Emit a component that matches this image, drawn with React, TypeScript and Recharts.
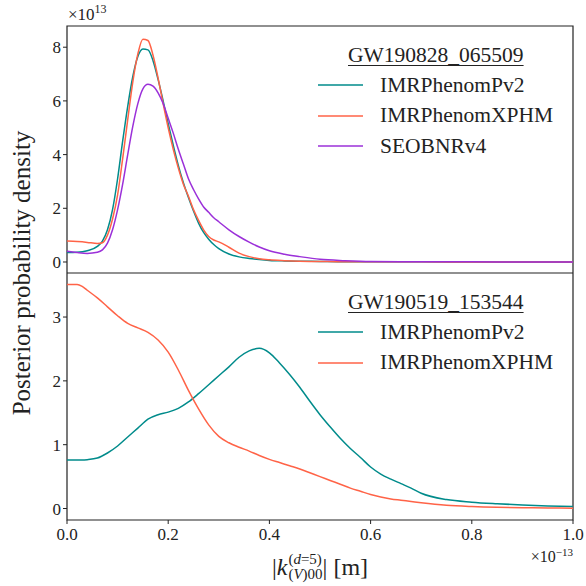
import React from "react";
import { LineChart, Line, XAxis, YAxis, ReferenceArea } from "recharts";

// x in units of 1e-13 m, densities in units of 1e13 (top) and plain (bottom)
const xTop = [0, 0.02, 0.04, 0.06, 0.07, 0.08, 0.09, 0.1, 0.11, 0.12, 0.13, 0.14, 0.15, 0.16, 0.17, 0.18, 0.19, 0.2, 0.21, 0.22, 0.23, 0.24, 0.25, 0.26, 0.27, 0.28, 0.29, 0.3, 0.32, 0.34, 0.36, 0.38, 0.4, 0.43, 0.46, 0.5, 0.55, 0.6, 0.7, 0.8, 0.9, 1.0];
const pv2Top = [0.35, 0.36, 0.42, 0.58, 0.78, 1.2, 1.95, 3.1, 4.5, 5.8, 6.9, 7.65, 7.93, 7.9, 7.5, 6.8, 6.0, 5.15, 4.35, 3.6, 2.95, 2.4, 1.9, 1.45, 1.1, 0.85, 0.65, 0.5, 0.3, 0.19, 0.13, 0.09, 0.06, 0.04, 0.03, 0.02, 0.01, 0.01, 0.005, 0, 0, 0];
const xphmTop = [0.78, 0.76, 0.73, 0.69, 0.72, 1.0, 1.6, 2.5, 3.85, 5.3, 6.7, 7.75, 8.3, 8.25, 7.7, 6.85, 5.9, 5.0, 4.2, 3.5, 2.9, 2.45, 1.95, 1.55, 1.2, 0.95, 0.82, 0.75, 0.55, 0.33, 0.2, 0.12, 0.08, 0.05, 0.03, 0.02, 0.01, 0.01, 0.005, 0, 0, 0];
const seobTop = [0.4, 0.35, 0.32, 0.36, 0.45, 0.7, 1.2, 1.95, 2.9, 4.0, 5.05, 5.9, 6.45, 6.62, 6.55, 6.3, 5.9, 5.35, 4.8, 4.2, 3.65, 3.1, 2.7, 2.35, 2.05, 1.85, 1.65, 1.5, 1.2, 0.95, 0.74, 0.56, 0.42, 0.29, 0.2, 0.1, 0.05, 0.02, 0.01, 0.005, 0, 0];

const xBottom = [0, 0.02, 0.03, 0.04, 0.06, 0.08, 0.1, 0.12, 0.14, 0.16, 0.18, 0.2, 0.22, 0.24, 0.26, 0.28, 0.3, 0.32, 0.34, 0.36, 0.38, 0.4, 0.42, 0.44, 0.46, 0.48, 0.5, 0.52, 0.54, 0.56, 0.58, 0.6, 0.62, 0.64, 0.66, 0.68, 0.7, 0.75, 0.8, 0.85, 0.9, 0.95, 1.0];
const pv2Bottom = [0.76, 0.76, 0.76, 0.765, 0.79, 0.87, 0.98, 1.12, 1.26, 1.4, 1.47, 1.51, 1.57, 1.67, 1.8, 1.94, 2.08, 2.22, 2.37, 2.47, 2.51, 2.44, 2.28, 2.1, 1.9, 1.68, 1.47, 1.28, 1.1, 0.94, 0.8, 0.65, 0.54, 0.46, 0.39, 0.32, 0.24, 0.14, 0.1, 0.075, 0.055, 0.04, 0.03];
const xphmBottom = [3.51, 3.51, 3.48, 3.42, 3.3, 3.16, 3.02, 2.9, 2.83, 2.76, 2.64, 2.45, 2.17, 1.85, 1.56, 1.31, 1.13, 1.03, 0.96, 0.9, 0.83, 0.77, 0.72, 0.67, 0.62, 0.56, 0.5, 0.44, 0.38, 0.32, 0.27, 0.22, 0.18, 0.15, 0.13, 0.11, 0.09, 0.05, 0.03, 0.018, 0.012, 0.008, 0.005];

const xTicks = [0, 0.2, 0.4, 0.6, 0.8, 1.0];
const topYTicks = [0, 2, 4, 6, 8];
const bottomYTicks = [0, 1, 2, 3];
const topYDomain = [-0.41, 8.79];
const bottomYDomain = [-0.18, 3.69];

const topData = xTop.map((x, i) => ({ x, pv2: pv2Top[i], xphm: xphmTop[i], seob: seobTop[i] }));
const bottomData = xBottom.map((x, i) => ({ x, pv2: pv2Bottom[i], xphm: xphmBottom[i] }));

const TEAL = "#008b8b";
const TOMATO = "#ff6347";
const VIOLET = "#9b30d9";
const FONT = "'Liberation Serif', 'DejaVu Serif', serif";
const INK = "#222";

const tickStyle = { fontSize: 17, fill: INK, fontFamily: FONT };

function Legend({ top, title, items }: { top: number; title: string; items: { name: string; color: string }[] }) {
  return (
    <div style={{ position: "absolute", left: 318, top, fontFamily: FONT, color: INK, fontSize: 21.5 }}>
      <div style={{ marginLeft: 30, textDecoration: "underline", textUnderlineOffset: 3, textDecorationThickness: 1, height: 30, lineHeight: "30px" }}>
        {title}
      </div>
      {items.map((it) => (
        <div key={it.name} style={{ display: "flex", alignItems: "center", height: 30.5 }}>
          <svg width={45} height={4} style={{ marginRight: 17 }}>
            <line x1={0} y1={2} x2={45} y2={2} stroke={it.color} strokeWidth={1.6} />
          </svg>
          <span>{it.name}</span>
        </div>
      ))}
    </div>
  );
}

export default function App() {
  return (
    <div style={{ position: "absolute", left: 0, top: 0, width: 586, height: 586, background: "#fff", overflow: "hidden" }}>
      <div style={{ position: "absolute", left: 0, top: 0 }}>
        <LineChart width={586} height={273} data={topData} margin={{ top: 26, right: 13, left: 7, bottom: 0 }} style={{ fontFamily: FONT }}>
          <XAxis type="number" dataKey="x" domain={[0, 1]} hide height={0} />
          <YAxis
            type="number"
            domain={topYDomain}
            ticks={topYTicks}
            allowDataOverflow
            width={60}
            axisLine={false}
            tickSize={4}
            tickLine={{ stroke: INK }}
            tick={tickStyle}
          />
          <Line type="monotone" dataKey="pv2" stroke={TEAL} strokeWidth={1.5} dot={false} isAnimationActive={false} />
          <Line type="monotone" dataKey="xphm" stroke={TOMATO} strokeWidth={1.5} dot={false} isAnimationActive={false} />
          <Line type="monotone" dataKey="seob" stroke={VIOLET} strokeWidth={1.5} dot={false} isAnimationActive={false} />
          <ReferenceArea x1={0} x2={1} y1={topYDomain[0]} y2={topYDomain[1]} fill="none" stroke={INK} strokeWidth={1.2} ifOverflow="visible" />
        </LineChart>
      </div>
      <div style={{ position: "absolute", left: 0, top: 273 }}>
        <LineChart width={586} height={313} data={bottomData} margin={{ top: 0, right: 13, left: 7, bottom: 0 }} style={{ fontFamily: FONT }}>
          <XAxis
            type="number"
            dataKey="x"
            domain={[0, 1]}
            ticks={xTicks}
            height={66}
            axisLine={false}
            tickSize={4}
            tickMargin={4}
            tickLine={{ stroke: INK }}
            tick={tickStyle}
            tickFormatter={(v: number) => v.toFixed(1)}
          />
          <YAxis
            type="number"
            domain={bottomYDomain}
            ticks={bottomYTicks}
            allowDataOverflow
            width={60}
            axisLine={false}
            tickSize={4}
            tickLine={{ stroke: INK }}
            tick={tickStyle}
          />
          <Line type="monotone" dataKey="pv2" stroke={TEAL} strokeWidth={1.5} dot={false} isAnimationActive={false} />
          <Line type="monotone" dataKey="xphm" stroke={TOMATO} strokeWidth={1.5} dot={false} isAnimationActive={false} />
          <ReferenceArea x1={0} x2={1} y1={bottomYDomain[0]} y2={bottomYDomain[1]} fill="none" stroke={INK} strokeWidth={1.2} ifOverflow="visible" />
        </LineChart>
      </div>

      {/* offset labels */}
      <div style={{ position: "absolute", left: 68, top: 6, fontFamily: FONT, fontSize: 17, lineHeight: "17px", color: INK }}>
        ×10<sup style={{ fontSize: 12, lineHeight: 0 }}>13</sup>
      </div>
      <div style={{ position: "absolute", right: 13, top: 549, fontFamily: FONT, fontSize: 16, lineHeight: "16px", color: INK }}>
        ×10<sup style={{ fontSize: 11, lineHeight: 0 }}>−13</sup>
      </div>

      <Legend
        top={40}
        title="GW190828_065509"
        items={[
          { name: "IMRPhenomPv2", color: TEAL },
          { name: "IMRPhenomXPHM", color: TOMATO },
          { name: "SEOBNRv4", color: VIOLET },
        ]}
      />
      <Legend
        top={287}
        title="GW190519_153544"
        items={[
          { name: "IMRPhenomPv2", color: TEAL },
          { name: "IMRPhenomXPHM", color: TOMATO },
        ]}
      />

      {/* y label */}
      <div
        style={{
          position: "absolute",
          left: 22,
          top: 273,
          transform: "translate(-50%, -50%) rotate(-90deg)",
          whiteSpace: "nowrap",
          fontFamily: FONT,
          fontSize: 25,
          color: INK,
        }}
      >
        Posterior probability density
      </div>

      {/* x label */}
      <div
        style={{
          position: "absolute",
          left: 320,
          top: 552,
          transform: "translateX(-50%)",
          whiteSpace: "nowrap",
          fontFamily: FONT,
          fontSize: 24,
          color: INK,
          display: "flex",
          alignItems: "center",
        }}
      >
        <span>|</span>
        <span style={{ fontStyle: "italic" }}>k</span>
        <span style={{ display: "inline-flex", flexDirection: "column", fontSize: 15, lineHeight: "15px", marginLeft: 1 }}>
          <span>
            (<i>d</i>=5)
          </span>
          <span>
            (<i>V</i>)00
          </span>
        </span>
        <span>| [m]</span>
      </div>
    </div>
  );
}
